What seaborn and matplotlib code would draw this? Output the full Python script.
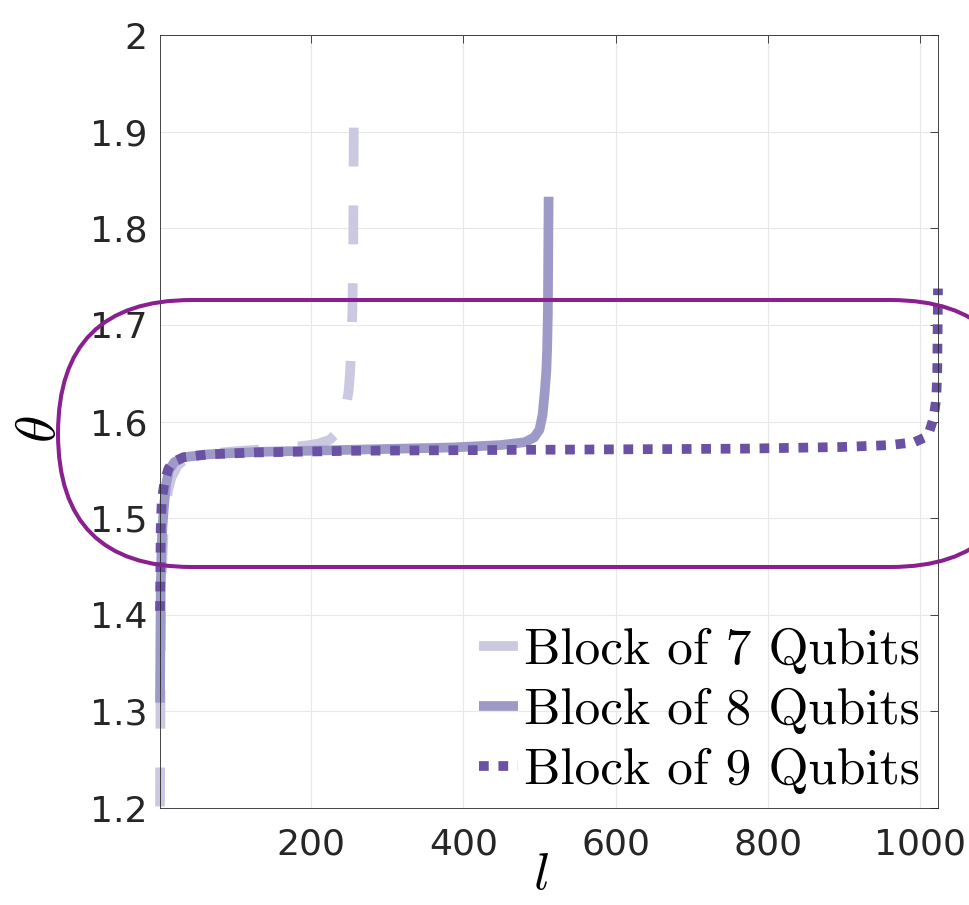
import pandas as pd
import matplotlib.pyplot as plt
import seaborn as sns
from matplotlib.patches import FancyBboxPatch

# 读图得到的数据点 (l, theta)
l_7 = [1, 2, 3, 4, 6, 8, 12, 16, 24, 33, 48, 64, 96, 128,
       161, 193, 209, 224, 233, 241, 245, 249, 251, 253, 254, 255, 256]
theta_7 = [1.2016, 1.370, 1.425, 1.455, 1.490, 1.510, 1.530, 1.542, 1.554, 1.5606, 1.5645, 1.5665, 1.5690, 1.5708,
           1.5726, 1.5751, 1.5771, 1.5810, 1.5876, 1.5996, 1.6116, 1.6316, 1.6516, 1.6866, 1.7166, 1.7716, 1.9400]

l_8 = [1, 2, 3, 4, 6, 9, 13, 20, 32, 64, 128, 256,
       385, 449, 481, 493, 500, 504, 507, 509, 510, 511, 512]
theta_8 = [1.309, 1.430, 1.468, 1.489, 1.510, 1.535, 1.550, 1.558, 1.563, 1.566, 1.5685, 1.5708,
           1.5731, 1.5756, 1.5786, 1.5836, 1.5916, 1.6066, 1.6316, 1.6526, 1.6736, 1.7116, 1.8326]

l_9 = [1, 2, 3, 4, 6, 8, 12, 18, 32, 64, 128, 256, 512,
       769, 897, 961, 993, 1007, 1013, 1017, 1019, 1021, 1022, 1023, 1024]
theta_9 = [1.404, 1.490, 1.512, 1.522, 1.533, 1.541, 1.551, 1.558, 1.563, 1.566, 1.568, 1.5697, 1.5708,
           1.5719, 1.5736, 1.5756, 1.5786, 1.5836, 1.5906, 1.6006, 1.6086, 1.6196, 1.6296, 1.6516, 1.7376]

labels = ['Block of 7 Qubits', 'Block of 8 Qubits', 'Block of 9 Qubits']
colors = ['#cbc9e2', '#9e9ac8', '#6a51a3']
styles = [(0, (4, 4)), '-', (0, (1, 1))]

x_ticks = [200, 400, 600, 800, 1000]
y_ticks = [1.2, 1.3, 1.4, 1.5, 1.6, 1.7, 1.8, 1.9, 2.0]
y_ticklabels = ['1.2', '1.3', '1.4', '1.5', '1.6', '1.7', '1.8', '1.9', '2']

sns.set_style('white')
plt.rcParams['mathtext.fontset'] = 'cm'

fig = plt.figure(figsize=(9.69, 9.05), dpi=100)
ax = fig.add_axes([160 / 969, 1 - 808 / 905, 778 / 969, 773 / 905])

series = [(l_7, theta_7), (l_8, theta_8), (l_9, theta_9)]
for (lx, ty), lab, c, ls in zip(series, labels, colors, styles):
    df = pd.DataFrame({'l': lx, 'theta': ty})
    sns.lineplot(data=df, x='l', y='theta', ax=ax, color=c, lw=7, linestyle=ls,
                 dash_capstyle='butt', solid_capstyle='butt', sort=False, label=lab, clip_on=False)

ax.set_xlim(1, 1024)
ax.set_ylim(1.2, 2.0)
ax.set_xticks(x_ticks)
ax.set_yticks(y_ticks)
ax.set_yticklabels(y_ticklabels)
ax.grid(True, color='#e8e8e8', lw=0.8)
ax.set_axisbelow(True)
for s in ax.spines.values():
    s.set_color('#262626')
    s.set_linewidth(0.6)
ax.tick_params(direction='in', length=5.8, width=0.6, top=True, right=True,
               colors='#262626', labelsize=26, pad=9)
ax.tick_params(axis='x', pad=14)

ax.set_xlabel(r'$l$', fontsize=38, va='top', color='black')
ax.xaxis.set_label_coords(0.49, -0.052)
ax.set_ylabel(r'$\theta$', fontsize=40, va='center', rotation=90, color='black')
ax.yaxis.set_label_coords(-0.154, 0.49)

leg = ax.legend(loc='lower right', bbox_to_anchor=(0.983, 0.012), frameon=False,
                prop={'family': 'cmr10', 'size': 37}, handlelength=0.76,
                handletextpad=0.1, labelspacing=0.27, borderpad=0.1, borderaxespad=0)
for t in leg.get_texts():
    t.set_color('black')

# 紫色圆角框标注
box = FancyBboxPatch((0.58, 3.38), 9.66, 2.67, boxstyle='round,pad=0,rounding_size=1.335',
                     transform=fig.dpi_scale_trans, fill=False, ec='#8a1f8f', lw=2.9, clip_on=False)
fig.add_artist(box)

fig.savefig('out.png', dpi=100)
